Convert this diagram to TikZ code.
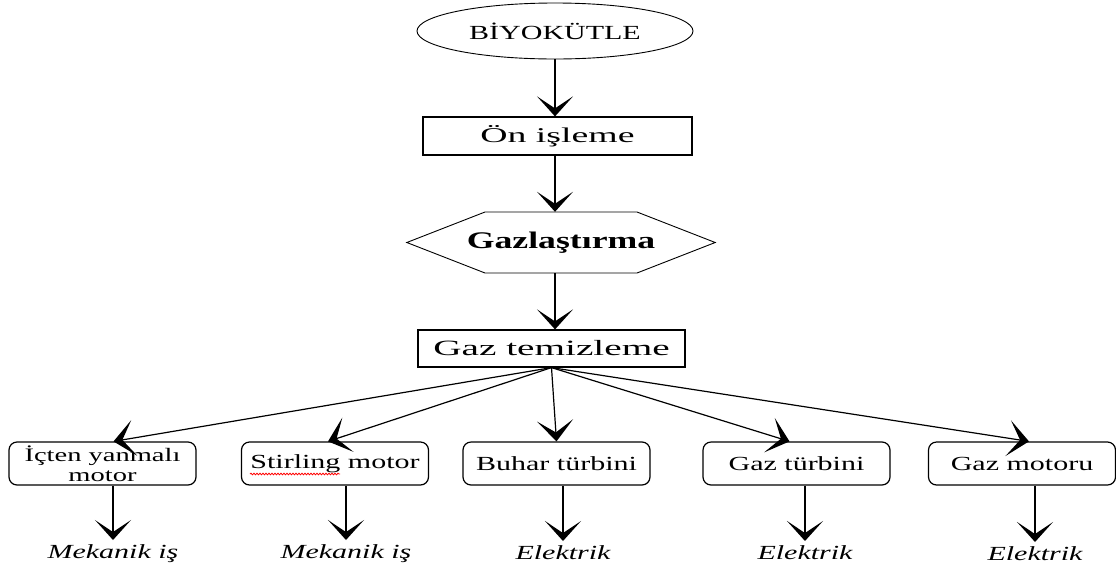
\documentclass[tikz,border=0pt]{standalone}
\usepackage{fontspec}
\setmainfont{Liberation Serif}[FakeStretch=1.5]
\newfontfamily\widefont{Liberation Serif}[FakeStretch=1.8]
\usetikzlibrary{arrows.meta,shapes.geometric,decorations.pathmorphing}

\begin{document}
\begin{tikzpicture}[x=1pt,y=-1pt,
            flow/.style={-{Stealth[length=20pt,width=36pt,inset=12pt]},line width=1.5pt},
            branch/.style={-{Stealth[length=21pt,width=36pt,inset=12pt]},line width=1.2pt},
            stepbox/.style={draw,line width=1.2pt,inner sep=0pt},
            engine/.style={draw,line width=1.2pt,rounded corners=8pt,minimum width=187pt,minimum height=43pt,inner sep=0pt,align=center,font=\fontsize{20}{19.5}\selectfont},
            output/.style={anchor=north,inner xsep=1pt,inner ysep=4pt,font=\fontsize{20}{22}\selectfont\itshape}]
            \useasboundingbox (0,0) rectangle (1116,574);

            \node[ellipse,draw,line width=0.9pt,minimum width=276pt,minimum height=56pt,inner sep=0pt,font=\fontsize{20}{22}\selectfont] (bio) at (555,31) {BİYOKÜTLE};
            \node[stepbox,minimum width=269pt,minimum height=38pt,font=\widefont\fontsize{21}{23}\selectfont] (pre) at (557.5,136) {Ön işleme};
            \node[minimum width=308pt,minimum height=61pt,inner sep=0pt,font=\fontsize{23.8}{26}\selectfont\bfseries] (gas) at (561,242.5) {Gazlaştırma};
            \draw[line width=0.9pt] (gas.west) -- (485,212) -- (637,212) -- (gas.east) -- (637,273) -- (485,273) -- cycle;
            \node[stepbox,minimum width=267pt,minimum height=37pt,font=\widefont\fontsize{21.8}{24}\selectfont] (clean) at (551.5,348.5) {Gaz temizleme};

            \node[engine,font=\fontsize{19}{19.5}\selectfont] (ice) at (102.5,463.5) {İçten yanmalı\\motor};
            \node[engine] (stir) at (335,463.5) {Stirling motor};
            \node[engine] (steam) at (556.5,463.5) {Buhar türbini};
            \node[engine] (gtur) at (796.5,463.5) {Gaz türbini};
            \node[engine] (gmot) at (1022,463.5) {Gaz motoru};

            \node[output] (w1) at (113,540) {Mekanik iş};
            \node[output] (w2) at (346,540) {Mekanik iş};
            \node[output] (w3) at (563,541) {Elektrik};
            \node[output] (w4) at (805,541) {Elektrik};
            \node[output] (w5) at (1035,542) {Elektrik};

            \draw[flow] (bio.south -| 555,0) -- (pre.north -| 555,0);
            \draw[flow] (pre.south -| 555,0) -- (gas.north -| 555,0);
            \draw[flow] (gas.south -| 555,0) -- (clean.north -| 555,0);

            \draw[branch] (clean.south) -- ([xshift=11pt]ice.north);
            \draw[branch] (clean.south) -- ([xshift=-7pt]stir.north);
            \draw[branch] (clean.south) -- (steam.north);
            \draw[branch] (clean.south) -- ([xshift=-7pt]gtur.north);
            \draw[branch] (clean.south) -- ([xshift=7pt]gmot.north);

            \draw[flow] (w1.north |- ice.south) -- (w1.north);
            \draw[flow] (w2.north |- stir.south) -- (w2.north);
            \draw[flow] (w3.north |- steam.south) -- (w3.north);
            \draw[flow] (w4.north |- gtur.south) -- (w4.north);
            \draw[flow] (w5.north |- gmot.south) -- (w5.north);

            % spell-check mark under Stirling
            \draw[red,line width=0.8pt,decorate,decoration={snake,amplitude=0.8pt,segment length=3pt}] (250,474) -- (340,474);
        \end{tikzpicture}
\end{document}
